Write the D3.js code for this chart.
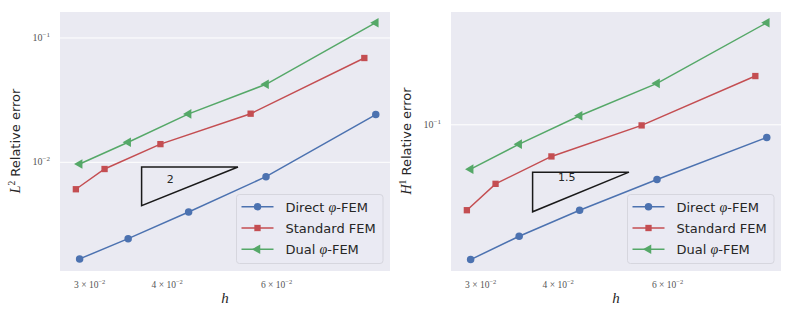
<!DOCTYPE html>
<html lang="en">
    <head>
        <meta charset="utf-8">
        <title>D3</title>
        <script type="text/javascript" src="https://cdnjs.cloudflare.com/ajax/libs/d3/7.8.5/d3.min.js"></script>
        <style type="text/css">
            body { margin: 0; background: white; }
            text { font-family: "DejaVu Sans", sans-serif; }
        </style>
    </head>
    <body>
        <script type="text/javascript">
            var w = 793;
            var h = 317;
            var serif = "'Liberation Serif', serif";

            // mesh sizes
            var hPhi = [0.0289, 0.0346, 0.0433, 0.0577, 0.0867];
            var hStd = [0.0285, 0.0317, 0.0390, 0.0545, 0.0831];

            // L2 relative errors
            var l2Direct = [0.00167, 0.00243, 0.00398, 0.00766, 0.0242];
            var l2Standard = [0.00607, 0.00883, 0.0140, 0.0246, 0.0690];
            var l2Dual = [0.00969, 0.0145, 0.0245, 0.0424, 0.1327];

            // H1 relative errors
            var h1Direct = [0.01615, 0.02215, 0.0315, 0.0477, 0.0843];
            var h1Standard = [0.0315, 0.0450, 0.0652, 0.0992, 0.1934];
            var h1Dual = [0.0549, 0.0770, 0.1130, 0.1752, 0.398];

            var xTicks = [0.03, 0.04, 0.06];
            var xTickLabels = ["3", "4", "6"];
            var seriesNames = ["Direct", "Standard FEM", "Dual"];
            var colors = ["#4C72B0", "#C44E52", "#55A868"];

            var svg = d3.select("body")
                        .append("svg")
                        .attr("width", w)
                        .attr("height", h);

            function drawPanel(opts) {
                var x = d3.scaleLog().domain([0.02687, 0.0914]).range([opts.left, opts.left + 330]);
                var y = d3.scaleLog().domain(opts.yDomain).range([271, 12]);
                var g = svg.append("g");

                g.append("rect")
                 .attr("x", opts.left).attr("y", 12)
                 .attr("width", 330).attr("height", 259)
                 .attr("fill", "#EAEAF2");

                // horizontal grid + y tick labels
                opts.yTicks.forEach(function (t) {
                    g.append("line")
                     .attr("x1", opts.left).attr("x2", opts.left + 330)
                     .attr("y1", y(t)).attr("y2", y(t))
                     .attr("stroke", "white").attr("stroke-width", 1);
                    var lab = g.append("text")
                     .attr("x", opts.left - 10).attr("y", y(t) + 3)
                     .attr("text-anchor", "end")
                     .attr("fill", "#555")
                     .style("font-family", serif)
                     .style("font-size", "10px");
                    lab.append("tspan").text("10");
                    lab.append("tspan").attr("dy", -4).style("font-size", "7px").text("\u2212" + Math.round(-Math.log10(t)));
                });

                // x tick labels (minor ticks in log scale)
                xTicks.forEach(function (t, i) {
                    var lab = g.append("text")
                     .attr("x", x(t)).attr("y", 288)
                     .attr("text-anchor", "middle")
                     .attr("fill", "#555")
                     .style("font-family", serif)
                     .style("font-size", "9.5px");
                    lab.append("tspan").text(xTickLabels[i] + " \u00d7 10");
                    lab.append("tspan").attr("dy", -4).style("font-size", "6.5px").text("\u22122");
                });

                // axis labels
                g.append("text")
                 .attr("x", opts.left + 165).attr("y", 303)
                 .attr("text-anchor", "middle")
                 .attr("fill", "#262626")
                 .style("font-family", serif)
                 .style("font-style", "italic")
                 .style("font-size", "15px")
                 .text("h");

                var yl = g.append("text")
                 .attr("transform", "translate(" + (opts.left - 40) + ",141) rotate(-90)")
                 .attr("text-anchor", "middle")
                 .attr("fill", "#262626")
                 .style("font-size", "13px");
                yl.append("tspan").style("font-family", serif).style("font-style", "italic").style("font-size", "14px").text(opts.norm[0]);
                yl.append("tspan").attr("dy", -5).style("font-family", serif).style("font-size", "9.5px").text(opts.norm[1]);
                yl.append("tspan").attr("dy", 5).text(" Relative error");

                var line = d3.line()
                    .x(function (d) { return x(d[0]); })
                    .y(function (d) { return y(d[1]); });

                var series = [
                    { xs: hPhi, ys: opts.direct, shape: d3.symbolCircle, size: 44 },
                    { xs: hStd, ys: opts.standard, shape: d3.symbolSquare, size: 40 },
                    { xs: hPhi, ys: opts.dual, shape: d3.symbolTriangle, size: 40 }
                ];

                series.forEach(function (s, k) {
                    var pts = s.xs.map(function (v, i) { return [v, s.ys[i]]; });
                    g.append("path")
                     .attr("d", line(pts))
                     .attr("fill", "none")
                     .attr("stroke", colors[k])
                     .attr("stroke-width", 1.5);
                    g.selectAll(null)
                     .data(pts)
                     .enter()
                     .append("path")
                     .attr("d", d3.symbol().type(s.shape).size(s.size))
                     .attr("transform", function (d) {
                         return "translate(" + x(d[0]) + "," + y(d[1]) + ")" + (k == 2 ? " rotate(-90)" : "");
                     })
                     .attr("fill", colors[k]);
                });

                // slope triangle
                var tx0 = 0.03637, tx1 = 0.052;
                var ty0 = opts.triTop;
                var ty1 = ty0 * Math.pow(tx0 / tx1, opts.slope);
                g.append("path")
                 .attr("d", "M" + x(tx0) + "," + y(ty0) + "L" + x(tx1) + "," + y(ty0) + "L" + x(tx0) + "," + y(ty1) + "Z")
                 .attr("fill", "none")
                 .attr("stroke", "#1a1a1a")
                 .attr("stroke-width", 1.5);
                g.append("text")
                 .attr("x", x(opts.slopeLabelPos[0])).attr("y", y(opts.slopeLabelPos[1]))
                 .attr("text-anchor", "middle")
                 .attr("dominant-baseline", "central")
                 .attr("fill", "#262626")
                 .style("font-size", "11px")
                 .text(opts.slopeLabel);

                // legend
                var lx = opts.left + 176.5;
                g.append("rect")
                 .attr("x", lx).attr("y", 194.5)
                 .attr("width", 146.5).attr("height", 69)
                 .attr("rx", 3)
                 .attr("fill", "#EAEAF2").attr("fill-opacity", 0.8)
                 .attr("stroke", "#d6d6de");
                series.forEach(function (s, k) {
                    var ly = 206.7 + k * 21.3;
                    g.append("line")
                     .attr("x1", lx + 5).attr("x2", lx + 37)
                     .attr("y1", ly).attr("y2", ly)
                     .attr("stroke", colors[k]).attr("stroke-width", 1.5);
                    g.append("path")
                     .attr("d", d3.symbol().type(s.shape).size(s.size))
                     .attr("transform", "translate(" + (lx + 21) + "," + ly + ")" + (k == 2 ? " rotate(-90)" : ""))
                     .attr("fill", colors[k]);
                    var t = g.append("text")
                     .attr("x", lx + 49).attr("y", ly + 4.8)
                     .attr("fill", "#262626")
                     .style("font-size", "13px");
                    if (k == 1) {
                        t.text(seriesNames[k]);
                    } else {
                        t.append("tspan").text(seriesNames[k] + " ");
                        t.append("tspan").style("font-family", serif).style("font-style", "italic").style("font-size", "14px").text("\u03c6");
                        t.append("tspan").text("-FEM");
                    }
                });
            }

            drawPanel({
                left: 60,
                yDomain: [0.001335, 0.1618],
                yTicks: [0.01, 0.1],
                norm: ["L", "2"],
                direct: l2Direct, standard: l2Standard, dual: l2Dual,
                triTop: 0.00916, slope: 2, slopeLabel: "2",
                slopeLabelPos: [0.04045, 0.00721]
            });

            drawPanel({
                left: 451,
                yDomain: [0.01384, 0.460],
                yTicks: [0.1],
                norm: ["H", "1"],
                direct: h1Direct, standard: h1Standard, dual: h1Dual,
                triTop: 0.0527, slope: 1.5, slopeLabel: "1.5",
                slopeLabelPos: [0.0413, 0.0491]
            });
        </script>
    </body>
</html>
